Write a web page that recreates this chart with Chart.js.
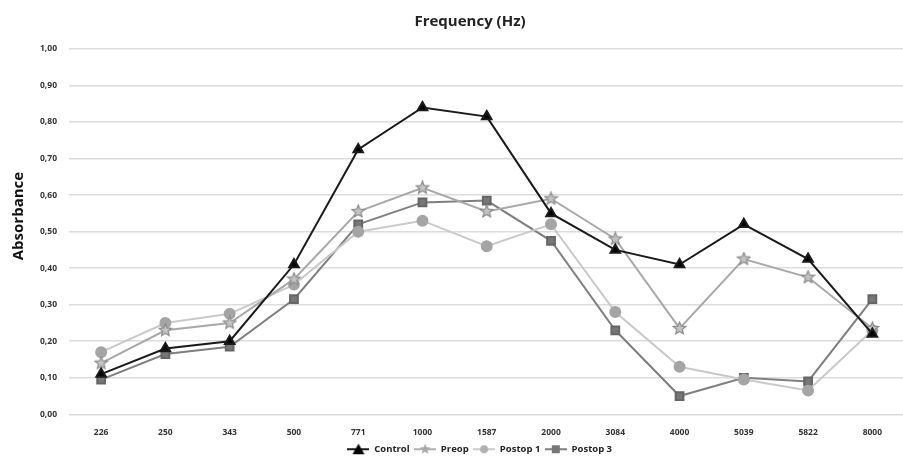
<!DOCTYPE html>
<html>
<head>
<meta charset="utf-8">
<script src="https://cdn.jsdelivr.net/npm/chart.js@4"></script>
<style>
  html, body { margin: 0; padding: 0; background: #fff; overflow: hidden; }
  #wrap { width: 912px; height: 457px; }
</style>
</head>
<body>
<div id="wrap"><canvas id="absChart"></canvas></div>
<script>
// frequencies on the x axis
const frequencies = ['226', '250', '343', '500', '771', '1000', '1587', '2000', '3084', '4000', '5039', '5822', '8000'];

// absorbance per group
const control = [0.11, 0.18, 0.20, 0.41, 0.725, 0.84, 0.815, 0.55, 0.45, 0.41, 0.52, 0.425, 0.22];
const preop   = [0.14, 0.23, 0.25, 0.37, 0.555, 0.62, 0.555, 0.59, 0.48, 0.235, 0.425, 0.375, 0.235];
const postop1 = [0.17, 0.25, 0.275, 0.355, 0.50, 0.53, 0.46, 0.52, 0.28, 0.13, 0.095, 0.065, 0.23];
const postop3 = [0.095, 0.165, 0.185, 0.315, 0.52, 0.58, 0.585, 0.475, 0.23, 0.05, 0.10, 0.09, 0.315];

function starPath(g, cx, cy, R) {
  const r = R * 0.45;
  g.beginPath();
  for (let i = 0; i < 10; i++) {
    const a = -Math.PI / 2 + i * Math.PI / 5;
    const rad = i % 2 === 0 ? R : r;
    g.lineTo(cx + rad * Math.cos(a), cy + rad * Math.sin(a));
  }
  g.closePath();
}

// five point star marker
function makeStar(size, fill, stroke) {
  const c = document.createElement('canvas');
  c.width = size; c.height = size;
  const g = c.getContext('2d');
  starPath(g, size / 2, size / 2, size / 2 - 1);
  g.fillStyle = fill;
  g.fill();
  g.strokeStyle = stroke;
  g.lineWidth = 1.2;
  g.stroke();
  return c;
}
const starImg = makeStar(15, '#c4c4c4', '#8a8a8a');

// legend icons: short line with the marker on it
function legendIcon(lineColor, markColor, kind) {
  const c = document.createElement('canvas');
  c.width = 22; c.height = 12;
  const g = c.getContext('2d');
  g.strokeStyle = lineColor;
  g.lineWidth = 2;
  g.beginPath(); g.moveTo(0, 6); g.lineTo(22, 6); g.stroke();
  g.fillStyle = markColor;
  if (kind === 'triangle') {
    g.beginPath(); g.moveTo(11, 0.5); g.lineTo(17, 11); g.lineTo(5, 11); g.closePath(); g.fill();
  } else if (kind === 'star') {
    starPath(g, 11, 6, 5.5); g.fill();
  } else if (kind === 'circle') {
    g.beginPath(); g.arc(11, 6, 4, 0, Math.PI * 2); g.fill();
  } else {
    g.fillRect(7, 2, 8, 8);
  }
  return c;
}
const legendIcons = [
  legendIcon('#1a1a1a', '#000', 'triangle'),
  legendIcon('#b0b0b0', '#a8a8a8', 'star'),
  legendIcon('#c9c9c9', '#b0b0b0', 'circle'),
  legendIcon('#7f7f7f', '#777', 'rect'),
];

// nudge title and legend to the right, like the original
const nudge = {
  id: 'nudge',
  afterLayout(chart) {
    chart.titleBlock.left += 9; chart.titleBlock.right += 9;
    chart.legend.left += 20; chart.legend.right += 20;
  },
};

const ctx = document.getElementById('absChart').getContext('2d');
const absChart = new Chart(ctx, {
  type: 'line',
  data: {
    labels: frequencies,
    datasets: [
      {
        label: 'Control',
        data: control,
        borderColor: '#1a1a1a',
        backgroundColor: '#000',
        pointStyle: 'triangle',
        pointRadius: 5.5,
        borderWidth: 2,
      },
      {
        label: 'Preop',
        data: preop,
        borderColor: '#a8a8a8',
        backgroundColor: '#c4c4c4',
        pointStyle: starImg,
        borderWidth: 2,
      },
      {
        label: 'Postop 1',
        data: postop1,
        borderColor: '#c9c9c9',
        backgroundColor: '#a5a5a5',
        pointStyle: 'circle',
        pointRadius: 5,
        pointBorderColor: '#a5a5a5',
        borderWidth: 2,
      },
      {
        label: 'Postop 3',
        data: postop3,
        borderColor: '#7f7f7f',
        backgroundColor: '#777',
        pointStyle: 'rect',
        pointRadius: 5.5,
        pointBorderColor: '#666',
        borderWidth: 2,
      },
    ],
  },
  plugins: [nudge],
  options: {
    responsive: true,
    maintainAspectRatio: false,
    animation: false,
    layout: { padding: { top: 4, left: 10, right: 0, bottom: -7 } },
    plugins: {
      title: {
        display: true,
        text: 'Frequency (Hz)',
        color: '#222',
        font: { family: 'Open Sans', size: 15, weight: 'bold' },
        padding: { top: 9, bottom: 18 },
      },
      legend: {
        position: 'bottom',
        labels: {
          usePointStyle: true,
          pointStyleWidth: 22,
          boxHeight: 9,
          padding: 2,
          color: '#222',
          font: { family: 'Open Sans', size: 9.5, weight: 'bold' },
          generateLabels: chart => {
            const items = Chart.defaults.plugins.legend.labels.generateLabels(chart);
            items.forEach((it, i) => { it.pointStyle = legendIcons[i]; it.text = it.text + ' '; });
            return items;
          },
        },
      },
      tooltip: { enabled: false },
    },
    scales: {
      x: {
        offset: true,
        grid: { display: false, offset: true },
        border: { display: false },
        ticks: {
          color: '#333',
          font: { family: 'Open Sans', size: 8.5, weight: 'bold' },
          padding: 5,
        },
      },
      y: {
        min: 0,
        max: 1,
        afterFit: s => { s.width = 59; },
        grid: { color: '#dcdcdc', lineWidth: 1.5, drawTicks: false },
        border: { display: false },
        title: {
          display: true,
          text: '        Absorbance',
          color: '#111',
          font: { family: 'Open Sans', size: 15, weight: 'bold' },
          padding: { top: 0, bottom: 0 },
        },
        ticks: {
          stepSize: 0.1,
          padding: 12,
          color: '#333',
          font: { family: 'Open Sans', size: 8.5, weight: 'bold' },
          callback: v => v.toFixed(2).replace('.', ','),
        },
      },
    },
  },
});
</script>
</body>
</html>
